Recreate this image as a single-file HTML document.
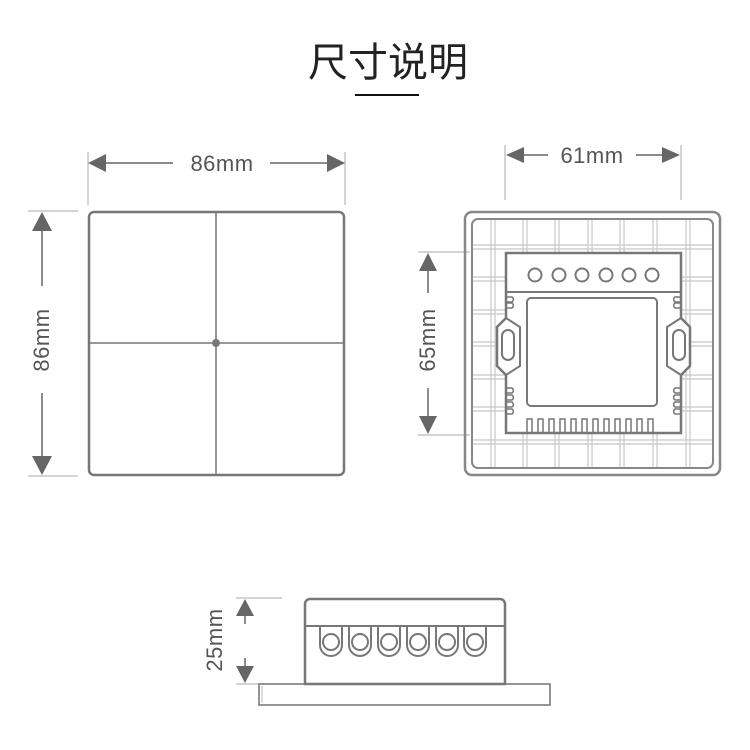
<!DOCTYPE html>
<html><head><meta charset="utf-8"><style>
html,body{margin:0;padding:0;background:#fff;width:750px;height:750px;overflow:hidden}
</style></head><body>
<svg width="750" height="750" viewBox="0 0 750 750" xmlns="http://www.w3.org/2000/svg">
<text x="388" y="76" text-anchor="middle" font-family="'Noto Sans CJK SC',sans-serif" font-size="40" fill="#222">尺寸说明</text>
<line x1="355" y1="95" x2="419" y2="95" stroke="#111" stroke-width="2"/>

<g font-family="'Liberation Sans',sans-serif" font-size="22" fill="#555" letter-spacing="0.5">
<line x1="88" y1="152" x2="88" y2="205" stroke="#aaa"/>
<line x1="345" y1="152" x2="345" y2="205" stroke="#aaa"/>
<path d="M88,163 L106,154 L106,172z M345,163 L327,154 L327,172z" fill="#666"/>
<line x1="104" y1="163" x2="173" y2="163" stroke="#666" stroke-width="1.5"/>
<line x1="270" y1="163" x2="330" y2="163" stroke="#666" stroke-width="1.5"/>
<text x="222" y="171" text-anchor="middle">86mm</text>
<line x1="28" y1="211" x2="78" y2="211" stroke="#aaa"/>
<line x1="28" y1="476" x2="78" y2="476" stroke="#aaa"/>
<path d="M42,212 L32,231 L52,231z M42,475 L32,456 L52,456z" fill="#666"/>
<line x1="42" y1="229" x2="42" y2="286" stroke="#666" stroke-width="1.5"/>
<line x1="42" y1="393" x2="42" y2="458" stroke="#666" stroke-width="1.5"/>
<text transform="translate(49,340) rotate(-90)" text-anchor="middle">86mm</text>
<line x1="505" y1="145" x2="505" y2="200" stroke="#aaa"/>
<line x1="681" y1="145" x2="681" y2="200" stroke="#aaa"/>
<path d="M506,155 L524,147 L524,163z M680,155 L662,147 L662,163z" fill="#666"/>
<line x1="522" y1="155" x2="548" y2="155" stroke="#666" stroke-width="1.5"/>
<line x1="636" y1="155" x2="664" y2="155" stroke="#666" stroke-width="1.5"/>
<text x="592" y="163" text-anchor="middle">61mm</text>
<line x1="418" y1="252" x2="470" y2="252" stroke="#aaa"/>
<line x1="418" y1="435" x2="470" y2="435" stroke="#aaa"/>
<path d="M428,253 L419,271 L437,271z M428,434 L419,416 L437,416z" fill="#666"/>
<line x1="428" y1="269" x2="428" y2="293" stroke="#666" stroke-width="1.5"/>
<line x1="428" y1="388" x2="428" y2="418" stroke="#666" stroke-width="1.5"/>
<text transform="translate(435,340) rotate(-90)" text-anchor="middle">65mm</text>
<line x1="236" y1="598" x2="282" y2="598" stroke="#aaa"/>
<line x1="236" y1="684" x2="282" y2="684" stroke="#aaa"/>
<path d="M245,599 L236,616 L254,616z M245,683 L236,666 L254,666z" fill="#666"/>
<line x1="245" y1="614" x2="245" y2="624" stroke="#666" stroke-width="1.5"/>
<line x1="245" y1="658" x2="245" y2="668" stroke="#666" stroke-width="1.5"/>
<text transform="translate(222,640) rotate(-90)" text-anchor="middle">25mm</text>
</g>

<rect x="89" y="212" width="255" height="263" rx="5" fill="none" stroke="#777" stroke-width="2.5"/>
<line x1="216" y1="212" x2="216" y2="475" stroke="#777" stroke-width="1.5"/>
<line x1="89" y1="343" x2="344" y2="343" stroke="#777" stroke-width="1.5"/>
<circle cx="216" cy="343" r="4" fill="#777"/>

<g fill="none">
<g stroke="#c8c8c8" stroke-width="1.2">
<path d="M491,220V468M495,220V468M523,220V468M527,220V468M555,220V468M559,220V468M588,220V468M592,220V468M620,220V468M624,220V468M653,220V468M657,220V468M686,220V468M690,220V468"/>
<path d="M473,245H712M473,249H712M473,277H712M473,281H712M473,310H712M473,314H712M473,342H712M473,346H712M473,375H712M473,379H712M473,407H712M473,411H712M473,440H712M473,444H712"/>
</g>
<rect x="465" y="212" width="255" height="263" rx="7" stroke="#888" stroke-width="2.5"/>
<rect x="472" y="219" width="241" height="249" rx="6" stroke="#888" stroke-width="2"/>
<path d="M506,253H681V318L690,327V366L681,375V433H506V375L497,366V327L506,318Z" fill="#fff" stroke="#777" stroke-width="2.5"/>
<line x1="506" y1="292" x2="681" y2="292" stroke="#777" stroke-width="2"/>
<path d="M506,318L520,327V366L506,375M681,318L667,327V366L681,375" stroke="#777" stroke-width="2"/>
<rect x="502" y="330" width="12" height="30" rx="6" stroke="#777" stroke-width="2"/>
<rect x="673" y="330" width="12" height="30" rx="6" stroke="#777" stroke-width="2"/>
<g stroke="#777" stroke-width="2">
<circle cx="535" cy="275" r="6.5"/><circle cx="559" cy="275" r="6.5"/><circle cx="582" cy="275" r="6.5"/><circle cx="606" cy="275" r="6.5"/><circle cx="629" cy="275" r="6.5"/><circle cx="652" cy="275" r="6.5"/>
</g>
<rect x="527" y="298" width="130" height="108" rx="4" stroke="#777" stroke-width="2"/>
<path d="M527,432V419h5v13M538,432V419h5v13M549,432V419h5v13M560,432V419h5v13M571,432V419h5v13M582,432V419h5v13M593,432V419h5v13M604,432V419h5v13M615,432V419h5v13M626,432V419h5v13M637,432V419h5v13M648,432V419h5v13" stroke="#777" stroke-width="1.5"/>
<path d="M507,297h5a3,3 0 0 1 0,5h-5M507,303h5a3,3 0 0 1 0,5h-5M507,388h5a3,3 0 0 1 0,5h-5M507,395h5a3,3 0 0 1 0,5h-5M507,402h5a3,3 0 0 1 0,5h-5M507,409h5a3,3 0 0 1 0,5h-5" stroke="#777" stroke-width="1.5"/>
<path d="M680,297h-5a3,3 0 0 0 0,5h5M680,303h-5a3,3 0 0 0 0,5h5M680,388h-5a3,3 0 0 0 0,5h5M680,395h-5a3,3 0 0 0 0,5h5M680,402h-5a3,3 0 0 0 0,5h5M680,409h-5a3,3 0 0 0 0,5h5" stroke="#777" stroke-width="1.5"/>
</g>

<g fill="none" stroke="#777">
<path d="M259,684H550V705H259Z" stroke="#888" stroke-width="1.8"/>
<line x1="262" y1="686" x2="262" y2="703" stroke="#bbb"/>
<path d="M305,684V604a5,5 0 0 1 5,-5H500a5,5 0 0 1 5,5V684Z" fill="#fff" stroke-width="2.5"/>
<line x1="305" y1="626" x2="505" y2="626" stroke-width="2"/>
<g stroke-width="2">
<path d="M320,626V645a11,11 0 0 0 22,0V626M349,626V645a11,11 0 0 0 22,0V626M378,626V645a11,11 0 0 0 22,0V626M407,626V645a11,11 0 0 0 22,0V626M436,626V645a11,11 0 0 0 22,0V626M464,626V645a11,11 0 0 0 22,0V626"/>
<circle cx="331" cy="642" r="8"/><circle cx="360" cy="642" r="8"/><circle cx="389" cy="642" r="8"/><circle cx="418" cy="642" r="8"/><circle cx="447" cy="642" r="8"/><circle cx="475" cy="642" r="8"/>
</g>
</g>
</svg>
</body></html>
